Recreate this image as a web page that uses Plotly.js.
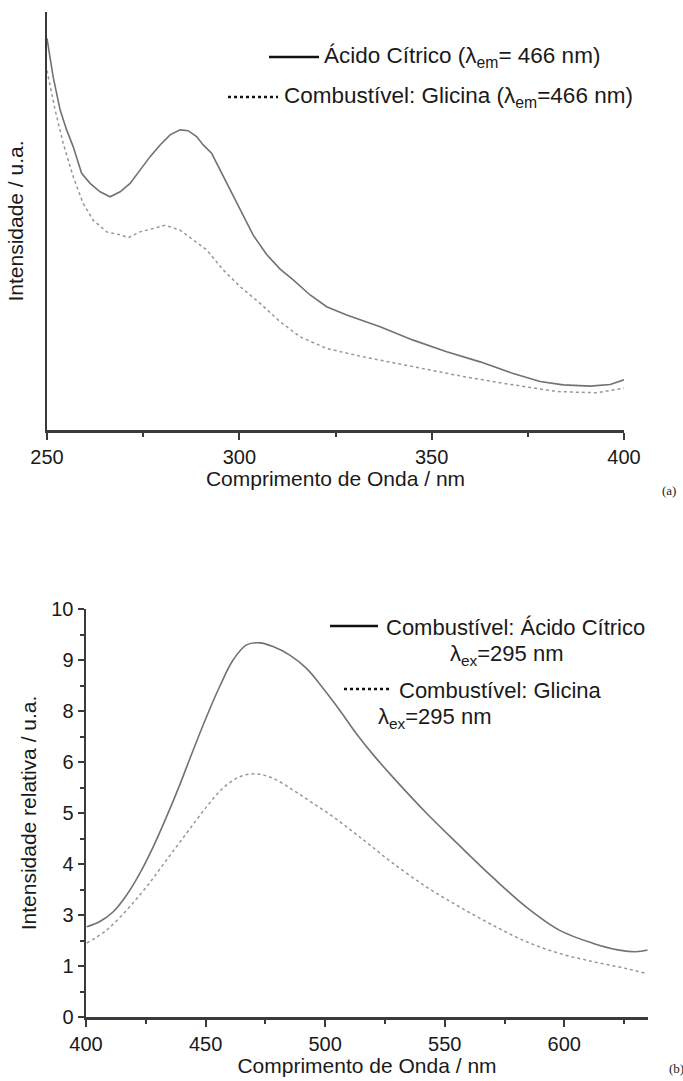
<!DOCTYPE html>
<html>
<head>
<meta charset="utf-8">
<script src="https://cdn.plot.ly/plotly-3.0.1.min.js"></script>
<style>html,body{margin:0;padding:0;background:#fff;}#chart{width:683px;height:1081px;}</style>
</head>
<body>
<div id="chart"></div>
<script>
// ---- Panel (a): excitation spectra (arbitrary intensity units) ----
const exWavelengthCitric = [250, 251.6, 253.4, 255.1, 256.8, 259, 261.2, 263.8, 266.4, 269, 271.6, 274.2, 276.8, 279.4, 282, 284.6, 286.7, 288.9, 290.6, 292.8, 295, 297.6, 300.2, 303.6, 307.1, 310.6, 314, 318.4, 322.7, 327.9, 336.6, 345.2, 353.9, 362.6, 371.2, 378.2, 384.2, 391.2, 396.4, 400];
const exIntensityCitric  = [93.7, 84.5, 76.6, 71.8, 67.8, 61.4, 59, 57, 55.8, 57, 59, 62.2, 65.4, 68.2, 70.6, 71.8, 71.6, 70.2, 68.2, 66.2, 62.2, 57.4, 52.6, 46.6, 42, 38.5, 35.9, 32.3, 29.5, 27.5, 24.7, 21.5, 18.7, 16.3, 13.5, 11.6, 10.8, 10.5, 10.9, 12];
const exWavelengthGly = [250, 252.1, 254.2, 256.8, 259.4, 262, 265.5, 269, 271.1, 274.2, 277.6, 280.7, 284.6, 288, 291.5, 295.8, 300.2, 305.4, 310.6, 315.8, 322.7, 332.2, 345.2, 358.2, 371.2, 382.5, 392.9, 400];
const exIntensityGly  = [86, 76.6, 68.6, 60.6, 54.2, 50.2, 47.4, 46.7, 46, 47.4, 48.2, 49, 47.8, 45.5, 43.1, 38.3, 34.3, 30.3, 25.9, 22.3, 19.5, 17.5, 15.1, 12.8, 10.8, 9.2, 8.9, 10];
const xTicksA = [250, 300, 350, 400];

// ---- Panel (b): emission spectra ----
const emWavelengthCitric = [400.3, 405.8, 411.4, 417, 422.5, 428.1, 433.7, 439.2, 444.8, 450.4, 455.9, 461.5, 467.1, 472.7, 478.2, 485.2, 492.1, 499.1, 506.1, 513, 520.5, 528.3, 542.3, 556.2, 570.1, 584, 597.9, 611.8, 623, 629.9, 634.8];
const emIntensityCitric  = [2.21, 2.34, 2.58, 2.99, 3.52, 4.17, 4.91, 5.69, 6.54, 7.36, 8.10, 8.75, 9.12, 9.17, 9.08, 8.87, 8.55, 8.06, 7.52, 6.95, 6.4, 5.88, 5.0, 4.2, 3.42, 2.70, 2.13, 1.81, 1.64, 1.60, 1.64];
const emWavelengthGly = [400.3, 408.6, 417, 425.3, 433.7, 442, 450.4, 457.3, 464.3, 471.3, 478.2, 486.6, 494.9, 503.3, 511.6, 518.6, 528.3, 542.3, 556.2, 570.1, 584, 597.9, 611.8, 625.7, 634.1];
const emIntensityGly  = [1.81, 2.13, 2.62, 3.19, 3.85, 4.50, 5.15, 5.61, 5.89, 5.96, 5.85, 5.56, 5.24, 4.91, 4.54, 4.22, 3.77, 3.19, 2.70, 2.25, 1.85, 1.56, 1.36, 1.19, 1.07];
const xTicksB = [400, 450, 500, 550, 600];
const yTickPosB = [0, 1.25, 2.5, 3.75, 5, 6.25, 7.5, 8.75, 10];
const yTickTextB = ['0', '1', '3', '4', '5', '6', '8', '9', '10'];

const FONT = '"Liberation Sans", Arimo, Arial, sans-serif';
const AX = '#3a3a3a';
const SOLID = '#767070';
const DOT = '#9a9696';
const TXT = '#1a1a1a';

const traces = [
  {x: exWavelengthCitric, y: exIntensityCitric, name: 'Ácido Cítrico (λem= 466 nm)', mode: 'lines', line: {color: SOLID, width: 1.6}, xaxis: 'x', yaxis: 'y', showlegend: false},
  {x: exWavelengthGly, y: exIntensityGly, name: 'Combustível: Glicina (λem=466 nm)', mode: 'lines', line: {color: DOT, width: 1.5, dash: 'dot'}, xaxis: 'x', yaxis: 'y', showlegend: false},
  {x: emWavelengthCitric, y: emIntensityCitric, name: 'Combustível: Ácido Cítrico λex=295 nm', mode: 'lines', line: {color: SOLID, width: 1.6, shape: 'spline'}, xaxis: 'x2', yaxis: 'y2', showlegend: false},
  {x: emWavelengthGly, y: emIntensityGly, name: 'Combustível: Glicina λex=295 nm', mode: 'lines', line: {color: DOT, width: 1.5, dash: 'dot', shape: 'spline'}, xaxis: 'x2', yaxis: 'y2', showlegend: false}
];

const W = 683, H = 1081;
const px = v => v / W;
const py = v => 1 - v / H;

const TICKSIZE = 20, TITLESIZE = 21, LEGSIZE = 22.5;

const axisCommon = {
  showline: true, linecolor: AX, linewidth: 2.5, showgrid: false, zeroline: false,
  ticks: 'outside', ticklen: 7, tickwidth: 2, tickcolor: AX,
  tickfont: {family: FONT, size: TICKSIZE, color: TXT}
};

const layout = {
  width: W, height: H,
  margin: {l: 0, r: 0, t: 0, b: 0},
  paper_bgcolor: '#fff', plot_bgcolor: '#fff',
  font: {family: FONT, color: TXT},
  xaxis: Object.assign({}, axisCommon, {
    domain: [px(47), px(624)], range: [250, 400], anchor: 'y',
    tickmode: 'array', tickvals: xTicksA,
    minor: {dtick: 25, tick0: 250, ticks: 'outside', ticklen: 4, tickwidth: 2, tickcolor: AX},
    title: {text: 'Comprimento de Onda / nm', font: {family: FONT, size: TITLESIZE, color: TXT}, standoff: 0}
  }),
  yaxis: Object.assign({}, axisCommon, {
    domain: [py(430), py(12)], range: [0, 100], anchor: 'x',
    ticks: '', showticklabels: false,
    title: {text: 'Intensidade / u.a.', font: {family: FONT, size: TITLESIZE, color: TXT}, standoff: 15}
  }),
  xaxis2: Object.assign({}, axisCommon, {
    domain: [px(86), px(648)], range: [400, 635], anchor: 'y2',
    tickmode: 'array', tickvals: xTicksB,
    minor: {dtick: 25, tick0: 400, ticks: 'outside', ticklen: 4, tickwidth: 2, tickcolor: AX},
    title: {text: 'Comprimento de Onda / nm', font: {family: FONT, size: TITLESIZE, color: TXT}, standoff: 0}
  }),
  yaxis2: Object.assign({}, axisCommon, {
    domain: [py(1017), py(609)], range: [0, 10], anchor: 'x2',
    tickmode: 'array', tickvals: yTickPosB, ticktext: yTickTextB, ticklen: 6,
    minor: {dtick: 0.625, tick0: 0, ticks: 'outside', ticklen: 4, tickwidth: 2, tickcolor: AX},
    title: {text: 'Intensidade relativa / u.a.', font: {family: FONT, size: TITLESIZE, color: TXT}, standoff: 9}
  }),
  shapes: [
    {type: 'line', xref: 'paper', yref: 'paper', x0: px(269), x1: px(319), y0: py(57), y1: py(57), line: {color: '#111', width: 2.5}},
    {type: 'line', xref: 'paper', yref: 'paper', x0: px(228), x1: px(278), y0: py(97), y1: py(97), line: {color: '#111', width: 2.5, dash: 'dot'}},
    {type: 'line', xref: 'paper', yref: 'paper', x0: px(330), x1: px(378), y0: py(626), y1: py(626), line: {color: '#111', width: 2.5}},
    {type: 'line', xref: 'paper', yref: 'paper', x0: px(344), x1: px(389), y0: py(689), y1: py(689), line: {color: '#111', width: 2.5, dash: 'dot'}}
  ],
  annotations: [
    {xref: 'paper', yref: 'paper', x: px(322), y: py(57), xanchor: 'left', yanchor: 'middle', showarrow: false, text: 'Ácido Cítrico (λ<sub>em</sub>= 466 nm)', font: {family: FONT, size: LEGSIZE, color: TXT}},
    {xref: 'paper', yref: 'paper', x: px(282), y: py(97), xanchor: 'left', yanchor: 'middle', showarrow: false, text: 'Combustível: Glicina (λ<sub>em</sub>=466 nm)', font: {family: FONT, size: LEGSIZE, color: TXT}},
    {xref: 'paper', yref: 'paper', x: px(384), y: py(627), xanchor: 'left', yanchor: 'middle', showarrow: false, text: 'Combustível: Ácido Cítrico', font: {family: FONT, size: 22, color: TXT}},
    {xref: 'paper', yref: 'paper', x: px(448), y: py(655), xanchor: 'left', yanchor: 'middle', showarrow: false, text: 'λ<sub>ex</sub>=295 nm', font: {family: FONT, size: 22, color: TXT}},
    {xref: 'paper', yref: 'paper', x: px(397), y: py(690), xanchor: 'left', yanchor: 'middle', showarrow: false, text: 'Combustível: Glicina', font: {family: FONT, size: 22, color: TXT}},
    {xref: 'paper', yref: 'paper', x: px(376), y: py(718), xanchor: 'left', yanchor: 'middle', showarrow: false, text: 'λ<sub>ex</sub>=295 nm', font: {family: FONT, size: 22, color: TXT}},
    {xref: 'paper', yref: 'paper', x: px(669), y: py(490), xanchor: 'center', yanchor: 'middle', showarrow: false, text: '(a)', font: {family: '"Liberation Serif", serif', size: 13, color: TXT}},
    {xref: 'paper', yref: 'paper', x: px(676), y: py(1068), xanchor: 'center', yanchor: 'middle', showarrow: false, text: '(b)', font: {family: '"Liberation Serif", serif', size: 13, color: TXT}}
  ]
};

Plotly.newPlot('chart', traces, layout, {displayModeBar: false, staticPlot: true});
</script>
</body>
</html>
